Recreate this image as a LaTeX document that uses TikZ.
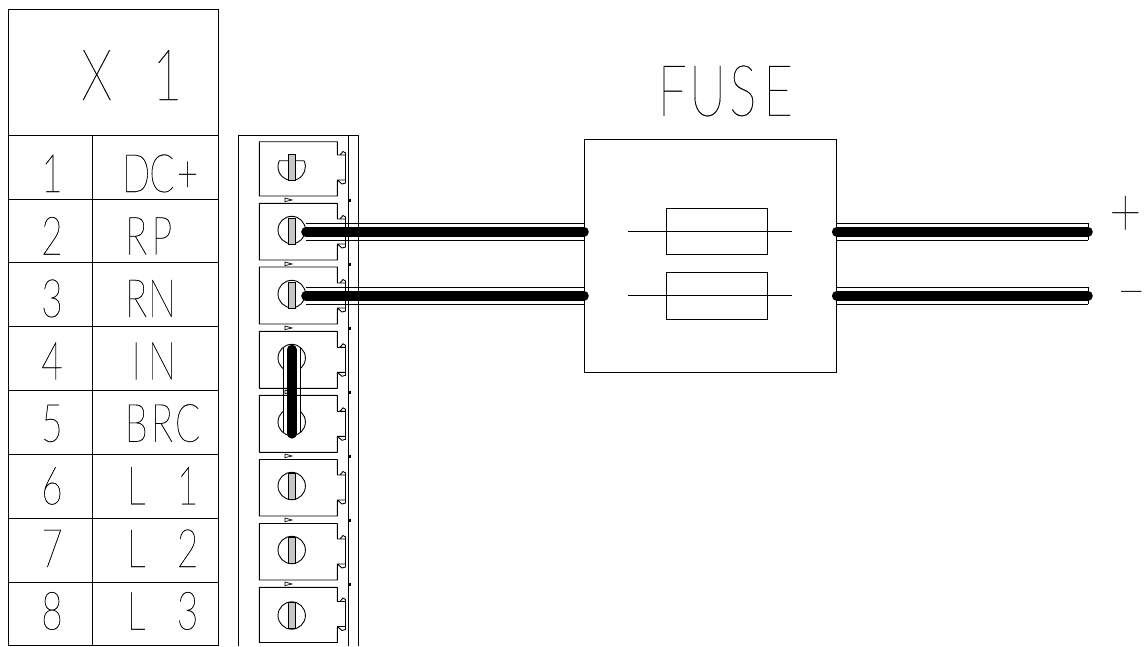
\documentclass[tikz,border=0pt]{standalone}
\usepackage{graphicx}
\usepackage{fontspec}
\newfontfamily\cadfont[FakeBold=0.28]{Lato Thin}
\newcommand\cadsm[1]{\makebox[25.7pt][c]{\scalebox{0.7}[1]{#1}}}
\newcommand\cadlg[1]{\makebox[35.3pt][c]{\scalebox{0.72}[1]{#1}}}
\tikzset{
  wirecore/.style={line width=9.6pt,line cap=round,black},
  thin line/.style={line width=0.9pt,black},
  smalltxt/.style={inner sep=0pt,anchor=base west,font=\cadfont\fontsize{53}{53}\selectfont},
  smallnum/.style={inner sep=0pt,anchor=base,font=\cadfont\fontsize{53}{53}\selectfont},
  largetxt/.style={inner sep=0pt,anchor=base west,font=\cadfont\fontsize{71}{71}\selectfont},
}
\begin{document}
\begin{tikzpicture}[x=1pt,y=-1pt]
\useasboundingbox (0,0) rectangle (1146,646);
\fill[white] (0,0) rectangle (1146,646);
% table
\draw[thin line] (8.7,9.5) rectangle (218.7,645.5);
\foreach \y in {135.5,199.5,262.7,326.7,390.3,454.3,518.3,582.3}
  \draw[thin line] (8.7,\y) -- (218.7,\y);
\draw[thin line] (92.3,135.5) -- (92.3,645.5);
\node[largetxt] (xa) at (78.85,100) {\cadlg{X}\cadlg{ }\cadlg{1}};
\node[smallnum] (n1) at (52,192) {\cadsm{1}};
\node[smallnum] (n2) at (52,254.5) {\cadsm{2}};
\node[smallnum] (n3) at (52,317) {\cadsm{3}};
\node[smallnum] (n4) at (52,379.5) {\cadsm{4}};
\node[smallnum] (n5) at (52,441.7) {\cadsm{5}};
\node[smallnum] (n6) at (52,504.3) {\cadsm{6}};
\node[smallnum] (n7) at (52,567) {\cadsm{7}};
\node[smallnum] (n8) at (52,629.5) {\cadsm{8}};
\node[smalltxt] (t1) at (123.15,192) {\cadsm{D}\cadsm{C}\cadsm{+}};
\node[smalltxt] (t2) at (123.15,254.5) {\cadsm{R}\cadsm{P}};
\node[smalltxt] (t3) at (123.15,317) {\cadsm{R}\cadsm{N}};
\node[smalltxt] (t4) at (123.15,379.5) {\cadsm{I}\cadsm{N}};
\node[smalltxt] (t5) at (123.15,441.7) {\cadsm{B}\cadsm{R}\cadsm{C}};
\node[smalltxt] (t6) at (123.15,504.3) {\cadsm{L}\cadsm{ }\cadsm{1}};
\node[smalltxt] (t7) at (123.15,567) {\cadsm{L}\cadsm{ }\cadsm{2}};
\node[smalltxt] (t8) at (123.15,629.5) {\cadsm{L}\cadsm{ }\cadsm{3}};
% strip
\draw[thin line] (238,646) -- (238,135.7) -- (358.3,135.7) -- (358.3,646);
\draw[thin line] (348.3,135.7) -- (348.3,646);
% terminals
\foreach \t/\b in {141.7/196,203.3/260,267/324,331.3/388.3,395.3/452.3,459.5/516,523.5/580,587.3/642.5}{
  \pgfmathsetmacro\u{\b-41}
  \pgfmathsetmacro\l{\b-16}
  \draw[thin line,line join=round] (337.3,\l) -- (337.3,\b) -- (259.3,\b) -- (259.3,\t) -- (337.3,\t) -- (337.3,\u) -- (340,\u)
    -- (343,{\u-3.5}) -- (345.5,{\u-2}) -- (345.5,\u) -- (337.3,\u) (345.5,\u) -- (345.5,\l)
    -- (337.3,\l) -- (342,{\l+4}) -- (345.5,{\l+3}) -- (345.5,\l);
}
% markers
\foreach \y in {200,264,328,392,456,520,584}{
  \draw[line width=0.7pt] (285,{\y-2}) -- (292,\y) -- (285,{\y+1.6}) -- cycle;
  \fill[black] (348.6,{\y-1.5}) rectangle (350.8,{\y+1.5});
}
% screws
\foreach \c in {230,294,358,422,486,550,615.5}
  \draw[thin line] (291.7,\c) circle (13.7);
\draw[thin line] (279.4,160.7) -- (304,160.7) arc[start angle=-26,end angle=206,radius=13.7] -- cycle;
\foreach \c in {167,231,295,486,550,615.5}{
  \draw[thin line,fill=gray!45] (288.6,{\c-13}) rectangle (295.2,{\c+13});
}
% fuse box
\node[draw,line width=0.9pt,inner sep=0pt,minimum width=252.7pt,minimum height=233.3pt] (fusebox) at (710.35,255.65) {};
\node[draw,line width=0.9pt,inner sep=0pt,minimum width=101pt,minimum height=46.4pt] (fa) at (717.2,231.5) {};
\node[draw,line width=0.9pt,inner sep=0pt,minimum width=101pt,minimum height=46.7pt] (fb) at (717.2,295.65) {};
\draw[thin line] (628.3,231.7) -- (792.3,231.7);
\draw[thin line] (628.3,295.7) -- (792.3,295.7);
\node[largetxt] (fusetitle) at (654.4,115.7) {\cadlg{F}\cadlg{U}\cadlg{S}\cadlg{E}};
% wires
\foreach \y in {231.7,295.7}{
  \draw[thin line] (306,{\y-8.5}) -- (584,{\y-8.5}) (306,{\y+8.5}) -- (584,{\y+8.5});
  \draw[wirecore] (306,\y) -- (584,\y);
  \draw[thin line] (1088.3,{\y-8.5}) -- (836.7,{\y-8.5}) (1088.3,{\y+8.5}) -- (836.7,{\y+8.5}) (1088.3,{\y-8.5}) -- (1088.3,{\y+8.5});
  \draw[wirecore] (836.7,\y) -- (1088,\y);
}
% bridge
\fill[white] (283.3,358) rectangle (300.7,373);
\fill[white] (283.3,407) rectangle (300.7,422);
\draw[thin line] (283.3,348) -- (283.3,432) (300.7,348) -- (300.7,432);
\draw[wirecore] (291.7,349.5) -- (291.7,433.8);
% polarity
\node[inner sep=0pt,font=\cadfont\fontsize{70}{70}\selectfont] (plus) at (1125.3,216) {\scalebox{0.8}[1]{+}};
\node[inner sep=0pt,anchor=base,font=\cadfont\fontsize{50}{50}\selectfont] (minus) at (1131.3,308) {−};
\end{tikzpicture}
\end{document}
